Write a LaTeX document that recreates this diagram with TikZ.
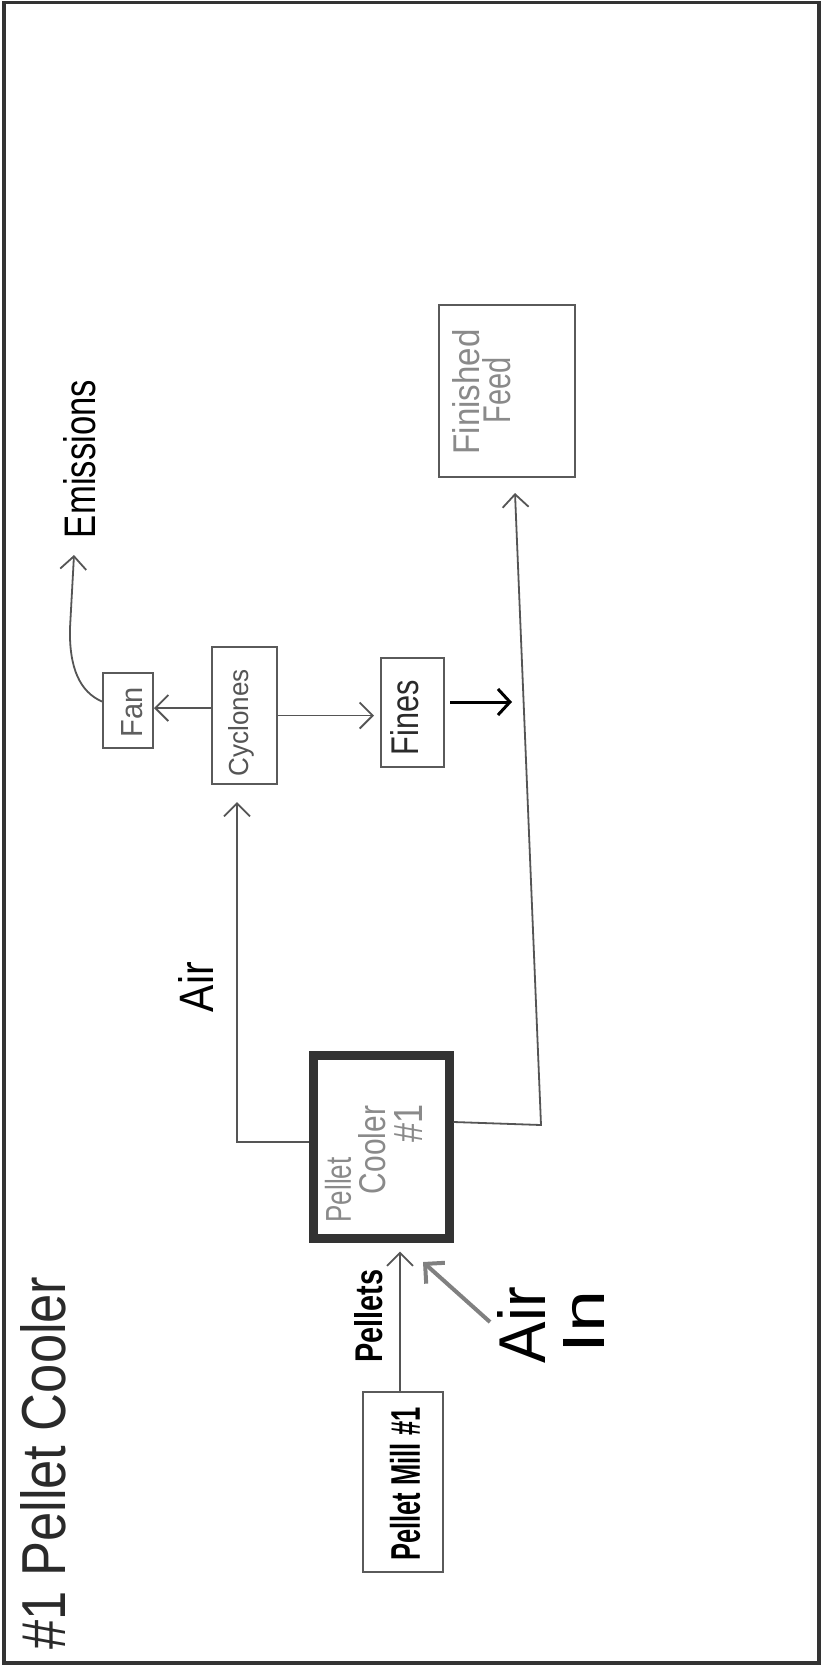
\documentclass[tikz,border=0pt]{standalone}
\usepackage{fontspec}
\setmainfont{Liberation Sans}
\usepackage{graphicx}
\usetikzlibrary{arrows.meta}
\definecolor{boxc}{HTML}{5A5A5A}
\definecolor{linec}{HTML}{555555}
\definecolor{framec}{HTML}{333333}
\definecolor{coolc}{HTML}{333333}
\definecolor{airinc}{HTML}{808080}
\definecolor{paletxt}{HTML}{8A8A8A}
\definecolor{midtxt}{HTML}{5E5E5E}
\definecolor{darktxt}{HTML}{2A2A2A}
\begin{document}
\begin{tikzpicture}[x=1pt,y=-1pt,
  box/.style={draw=boxc, line width=2pt, inner sep=0pt, rectangle},
  lbl/.style={rotate=90, inner sep=0pt},
  arr/.style={draw=linec, line width=1.8pt, -{Straight Barb[length=13pt,width=26pt]}},
  airin/.style={draw=airinc, line width=4pt, -{Straight Barb[length=14pt,width=28pt]}},
  blk/.style={draw=black, line width=3pt, -{Straight Barb[length=12pt,width=26pt]}}
]
\useasboundingbox (0,0) rectangle (823,1669);
\fill[white] (0,0) rectangle (823,1669);
\draw[framec, line width=3.5pt] (4,2.5) rectangle (819,1663);

% boxes
\node[box, minimum width=80pt, minimum height=180pt] (mill) at (403,1482) {};
\node[box, draw=coolc, line width=9pt, minimum width=136pt, minimum height=183pt] (cooler) at (381,1146.5) {};
\node[box, minimum width=65pt, minimum height=137pt] (cyclones) at (244.5,715.5) {};
\node[box, minimum width=50pt, minimum height=75pt] (fan) at (128,710.5) {};
\node[box, minimum width=63pt, minimum height=109pt] (fines) at (412.5,712.5) {};
\node[box, minimum width=136pt, minimum height=172pt] (feed) at (507,391) {};

% labels
\node[lbl, text=darktxt] (title) at (43,1463) {\resizebox{373pt}{45pt}{\#1 Pellet Cooler}};
\node[lbl, text=black] (milltxt) at (405,1484) {\resizebox{153pt}{30pt}{\bfseries Pellet Mill \#1}};
\node[lbl, text=black] (pellets) at (369,1316) {\resizebox{93pt}{28pt}{\bfseries Pellets}};
\node[lbl, text=black] (airA) at (521,1325) {\resizebox{76pt}{48pt}{Air}};
\node[lbl, text=black] (airB) at (584,1322) {\resizebox{63pt}{41pt}{In}};
\node[lbl, text=black] (airup) at (196,987) {\resizebox{50pt}{35pt}{Air}};
\node[lbl, text=black] (emis) at (80,459) {\resizebox{158pt}{32pt}{Emissions}};
\node[lbl, text=darktxt!80] (cyctxt) at (241,723) {\resizebox{107pt}{20pt}{Cyclones}};
\node[lbl, text=midtxt] (fantxt) at (132,712) {\resizebox{50pt}{21pt}{Fan}};
\node[lbl, text=darktxt] (finestxt) at (405,718) {\resizebox{75pt}{28pt}{Fines}};
\node[lbl, text=paletxt] (feedA) at (466,392) {\resizebox{125pt}{27pt}{Finished}};
\node[lbl, text=paletxt] (feedB) at (497,390) {\resizebox{66pt}{28pt}{Feed}};
\node[lbl, text=paletxt] (coolA) at (338,1190) {\resizebox{65pt}{26pt}{Pellet}};
\node[lbl, text=paletxt] (coolB) at (372,1150) {\resizebox{88pt}{27pt}{Cooler}};
\node[lbl, text=paletxt] (coolC) at (408,1123) {\resizebox{38pt}{28pt}{\#1}};

% free ends
\coordinate (airtip) at (237,802);
\coordinate (lcorner) at (237,1142);
\coordinate (rcorner) at (541,1125);
\coordinate (fftip) at (515,493);
\coordinate (emtip) at (74,555);
\coordinate (aintail) at (490,1322);
\coordinate (aintip) at (423,1262);
\coordinate (finestip) at (512,702);

% connectors
\draw[arr] ([yshift=4.5pt]cooler.west) -- (lcorner) -- (airtip);
\draw[arr] ([yshift=24.5pt]cooler.east) -- (rcorner) -- (fftip);
\draw[arr] ([xshift=-3pt]mill.north) -- ([xshift=19pt,yshift=-9pt]cooler.south);
\draw[airin] (aintail) -- (aintip);
\draw[arr] ([yshift=7.5pt]cyclones.west) coordinate (cw) -- (cw -| fan.east);
\draw[arr, shorten >=6pt] (cyclones.east) -- (cyclones.east -| fines.west);
\draw[blk] ([xshift=5pt,yshift=10.5pt]fines.east) -- (finestip);
\draw[arr] ([yshift=9pt]fan.west) .. controls (80,692) and (69,668) .. (70,628) -- (emtip);
\end{tikzpicture}
\end{document}
